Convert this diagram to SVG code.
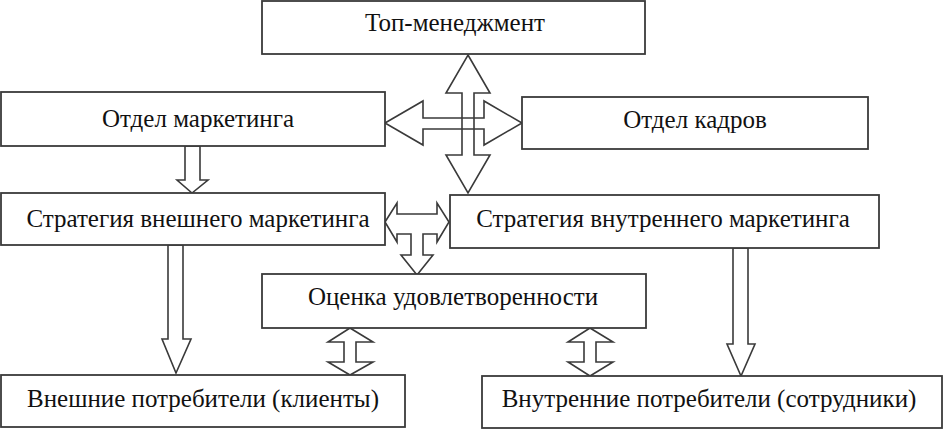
<svg xmlns="http://www.w3.org/2000/svg" width="944" height="430" viewBox="0 0 944 430">
<style>
.box{fill:#fff;stroke:#3a3a3a;stroke-width:1.8}
.lbl{font-family:"Liberation Serif","Times New Roman",serif;font-size:25px;fill:#111;text-anchor:middle}
.arr{fill:#fff;stroke:#3a3a3a;stroke-width:1.6;stroke-linejoin:miter}
.arrn{fill:none;stroke:#3a3a3a;stroke-width:1.6}
</style>
<rect width="944" height="430" fill="#fff"/>
<g id="connectors">
<path class="arr" d="M468,55 L490,93 L474,93 L474,155 L490,155 L468,193 L446,155 L462,155 L462,93 L446,93 Z"/>
<path class="arrn" d="M385,123 L423,101 L423,118 L484,118 L484,101 L522,123 L484,145 L484,129 L423,129 L423,145 Z"/>
<path class="arr" d="M385,222 L397,203 L397,214 L437,214 L437,203 L449,222 L437,242 L437,234 L423,234 L423,255 L433,255 L417,275 L401,255 L411,255 L411,234 L397,234 L397,242 Z"/>
<path class="arr" d="M185,146 L200,146 L200,180 L208,180 L192,193 L177,180 L185,180 Z"/>
<path class="arr" d="M168,245 L183,245 L183,339 L191,339 L176,373 L162,339 L168,339 Z"/>
<path class="arr" d="M733,248 L748,248 L748,344 L755,344 L741,376 L727,344 L733,344 Z"/>
<path class="arr" d="M350,328 L373,342 L356,342 L356,362 L373,362 L350,375 L328,362 L344,362 L344,342 L328,342 Z"/>
<path class="arr" d="M590,328 L613,342 L596,342 L596,362 L613,362 L590,376 L568,362 L584,362 L584,342 L568,342 Z"/>
</g>
<g id="top">
<rect class="box" x="262" y="1" width="383" height="53"/>
<text class="lbl" x="455" y="31">Топ-менеджмент</text>
</g>
<g id="marketing">
<rect class="box" x="1" y="92" width="384" height="54"/>
<text class="lbl" x="198" y="127">Отдел маркетинга</text>
</g>
<g id="hr">
<rect class="box" x="522" y="97" width="346" height="52"/>
<text class="lbl" x="695" y="128">Отдел кадров</text>
</g>
<g id="ext-strategy">
<rect class="box" x="1" y="193" width="384" height="52"/>
<text class="lbl" x="198" y="227">Стратегия внешнего маркетинга</text>
</g>
<g id="int-strategy">
<rect class="box" x="450" y="195" width="429" height="53"/>
<text class="lbl" x="663" y="227">Стратегия внутреннего маркетинга</text>
</g>
<g id="satisfaction">
<rect class="box" x="262" y="274" width="384" height="54"/>
<text class="lbl" x="453" y="305">Оценка удовлетворенности</text>
</g>
<g id="ext-consumers">
<rect class="box" x="1" y="375" width="404" height="52"/>
<text class="lbl" x="203" y="407">Внешние потребители (клиенты)</text>
</g>
<g id="int-consumers">
<rect class="box" x="482" y="376" width="460" height="52"/>
<text class="lbl" x="709" y="407">Внутренние потребители (сотрудники)</text>
</g>
</svg>
